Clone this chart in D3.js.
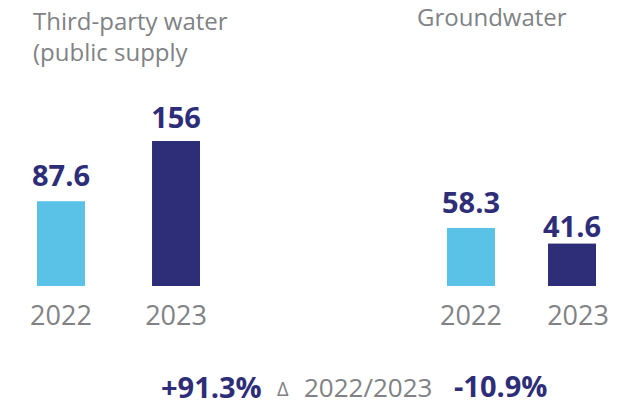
<!DOCTYPE html>
<html lang="en">
<head>
<meta charset="utf-8">
<title>Water withdrawal</title>
<script src="https://cdnjs.cloudflare.com/ajax/libs/d3/7.8.5/d3.min.js"></script>
<style>
  body { margin: 0; background: #ffffff; }
  text { font-family: "Open Sans", "Noto Sans", sans-serif; }
  .title { fill: #808285; font-size: 24px; }
  .year { fill: #808285; font-size: 27px; }
  .value { fill: #2e2d78; font-size: 29px; font-weight: 700; }
</style>
</head>
<body>
<svg id="chart" width="625" height="406"></svg>
<script>
// data
const years = ["2022", "2023"];
const groups = ["Third-party water (public supply", "Groundwater"];
const thirdParty = [87.6, 156];
const groundwater = [58.3, 41.6];
const valueLabels = [["87.6", "156"], ["58.3", "41.6"]];
const changes = ["+91.3%", "-10.9%"];
const changePeriod = "2022/2023";

const colors = ["#5bc2e7", "#2e2d78"];

const svg = d3.select("#chart");
const baseY = 286;

// bar heights: the original is not quite linear, a soft power scale fits it best
const h = d3.scalePow().exponent(0.93).domain([0, 156]).range([0, 145]);

// each group has its own spacing in the original
const bands = [
  d3.scaleBand().domain(years).range([37, 200]).paddingInner(0.583).paddingOuter(0),
  d3.scaleBand().domain(years).range([447, 596]).paddingInner(0.525).paddingOuter(0)
];
const yearShift = [[0, 0], [0, 6]];
const labelGap = [[15, 13], [15, 7]];

const series = [thirdParty, groundwater];

groups.forEach((g, gi) => {
  const x = bands[gi];
  const vals = series[gi];
  const gg = svg.append("g");

  gg.selectAll("rect")
    .data(vals)
    .enter().append("rect")
    .attr("x", (d, i) => x(years[i]))
    .attr("y", d => baseY - h(d))
    .attr("width", x.bandwidth())
    .attr("height", d => h(d))
    .attr("fill", (d, i) => colors[i]);

  gg.selectAll("text.value")
    .data(vals)
    .enter().append("text")
    .attr("class", "value")
    .attr("x", (d, i) => x(years[i]) + x.bandwidth() / 2)
    .attr("y", (d, i) => baseY - h(d) - labelGap[gi][i])
    .attr("text-anchor", "middle")
    .text((d, i) => valueLabels[gi][i]);

  gg.selectAll("text.year")
    .data(years)
    .enter().append("text")
    .attr("class", "year")
    .attr("x", (d, i) => x(d) + x.bandwidth() / 2 + yearShift[gi][i])
    .attr("y", 325)
    .attr("text-anchor", "middle")
    .text(d => d);
});

// titles
const t1 = svg.append("text").attr("class", "title").attr("x", 33).attr("y", 30);
t1.append("tspan").text("Third-party water");
t1.append("tspan").attr("x", 33).attr("dy", 31).text("(public supply");
svg.append("text").attr("class", "title").attr("x", 417).attr("y", 26).text(groups[1]);

// change row
svg.append("text").attr("class", "value").attr("x", 161).attr("y", 398).text(changes[0]);
svg.append("text").attr("class", "year").style("font-size", "20px")
  .attr("x", 277).attr("y", 396).text("\u0394");
svg.append("text").attr("class", "year").style("font-size", "26px")
  .attr("x", 304).attr("y", 397).text(changePeriod);
svg.append("text").attr("class", "value").attr("x", 454).attr("y", 397).text(changes[1]);
</script>
</body>
</html>
